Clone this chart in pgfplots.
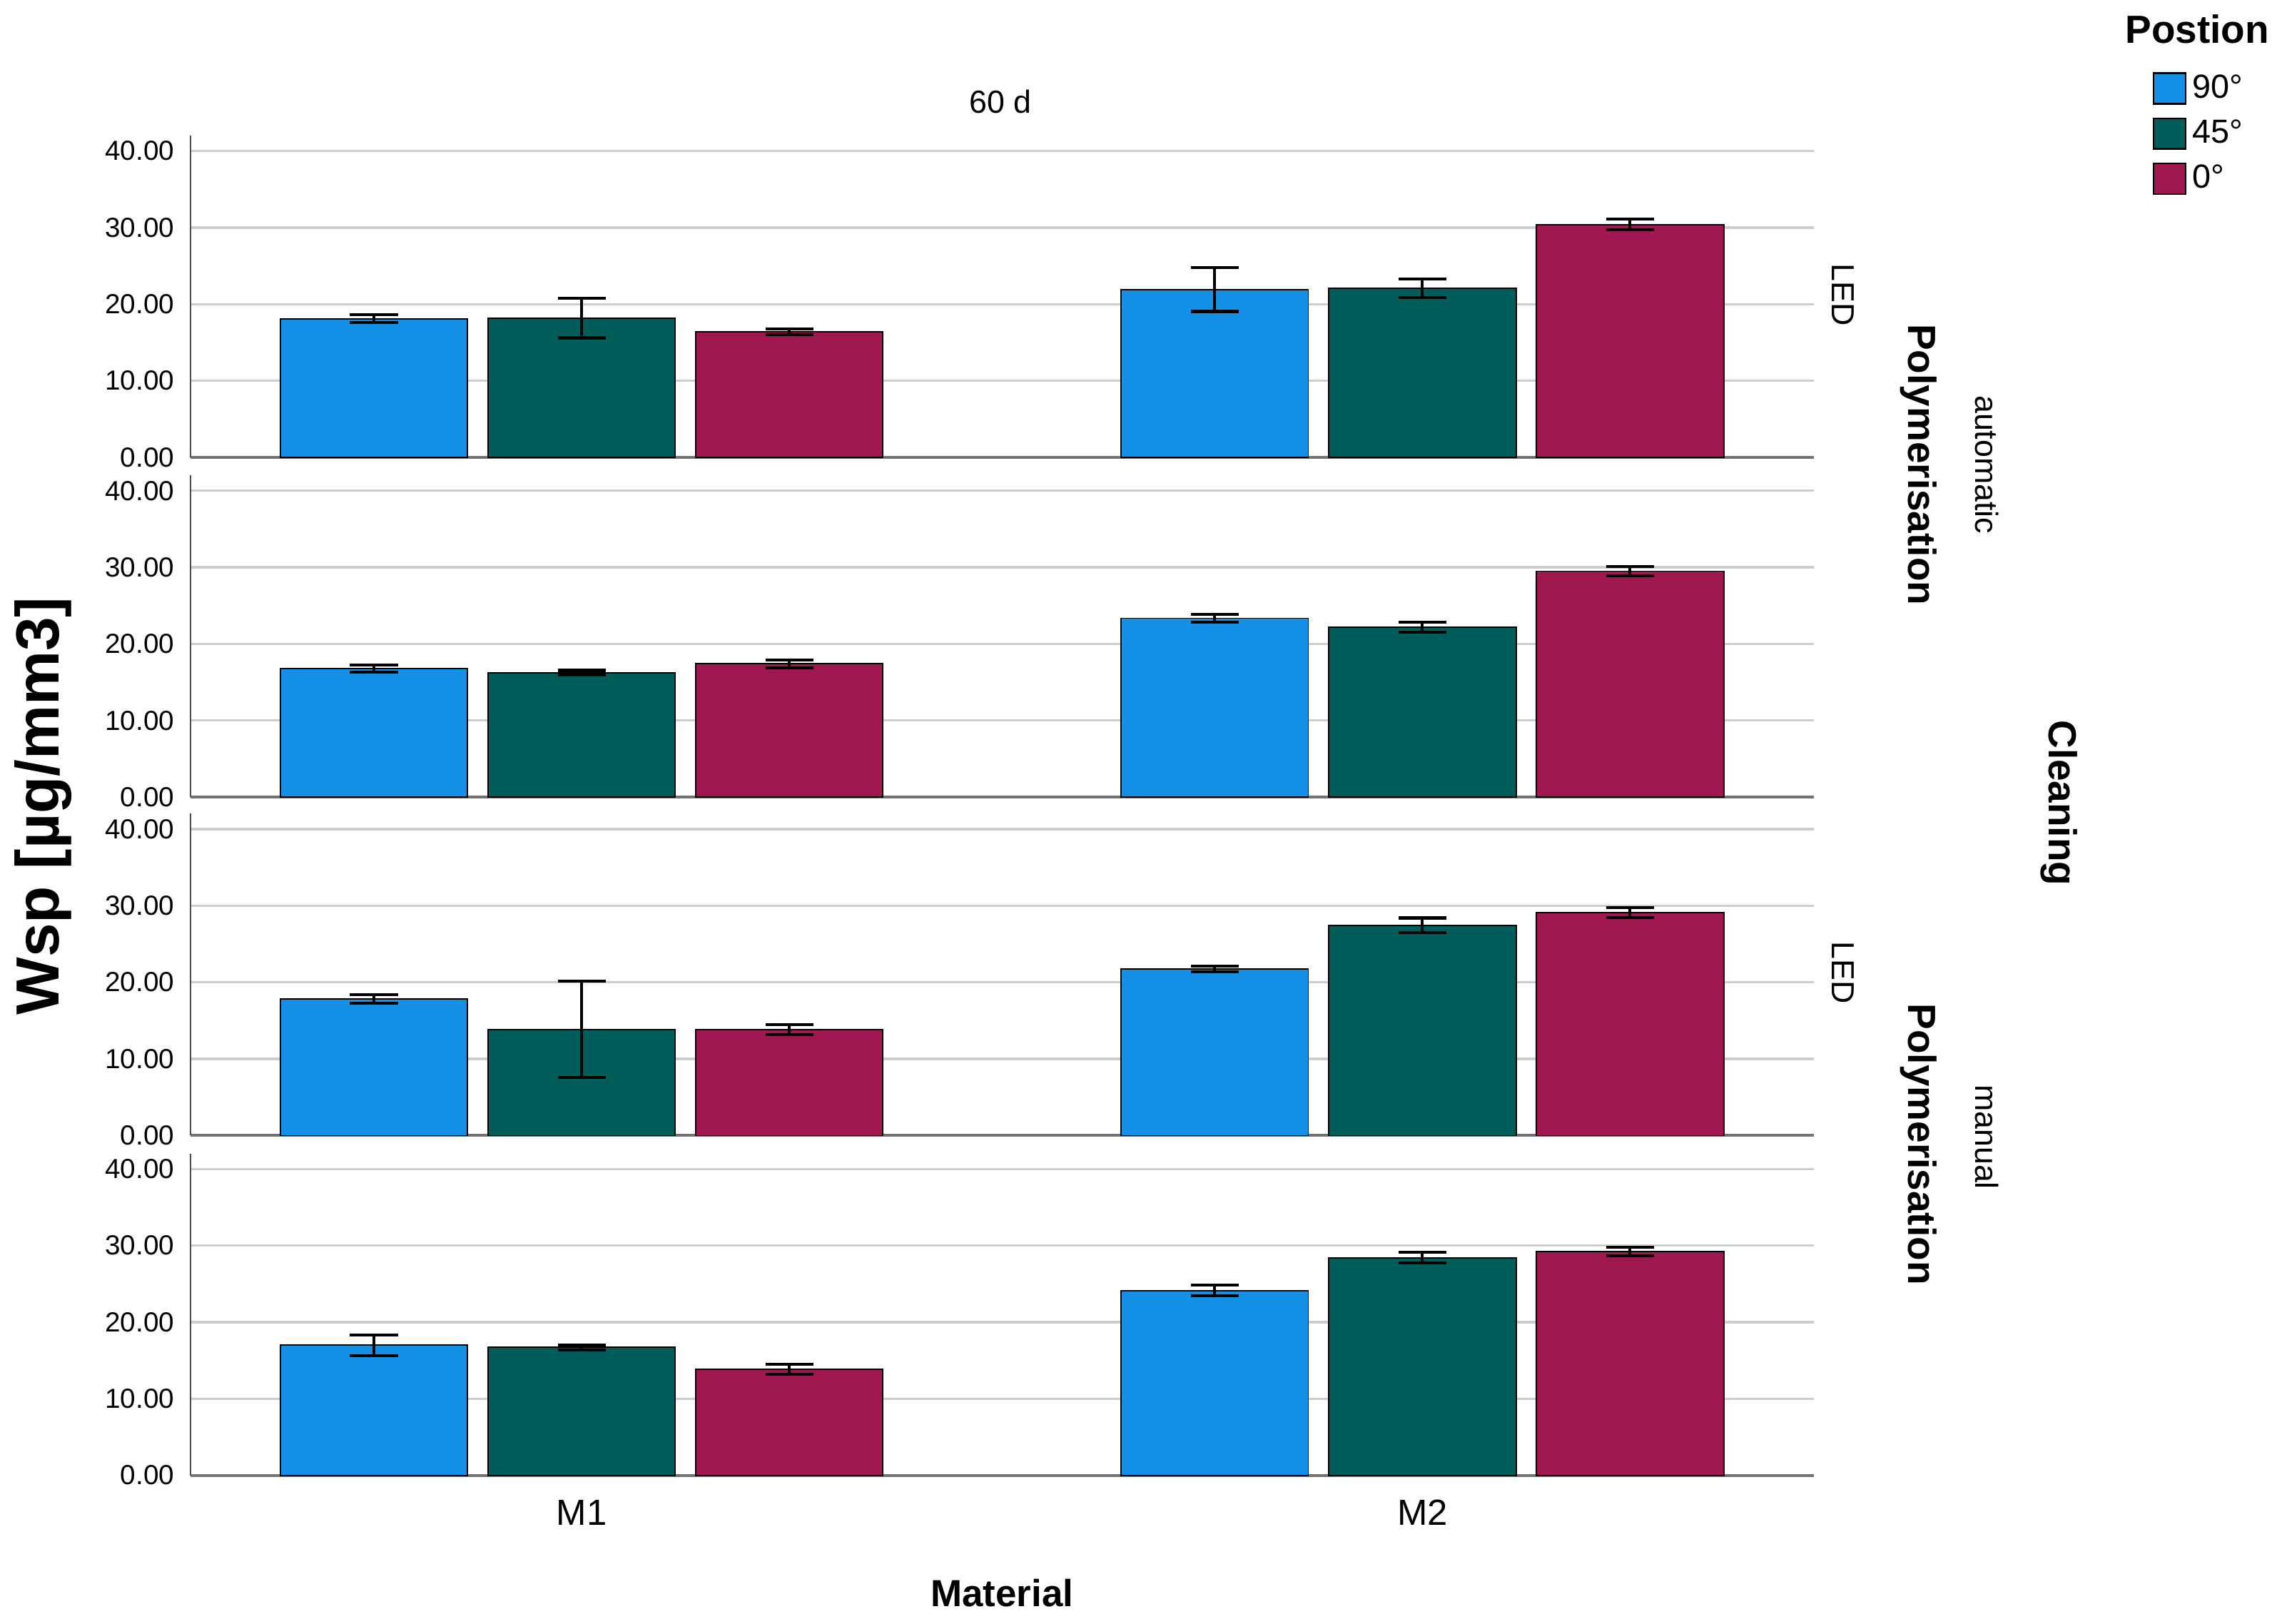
\documentclass[border=0pt]{standalone}
\usepackage{fontspec}
\setmainfont{Liberation Sans}
\usepackage{pgfplots}
\pgfplotsset{compat=1.18}

\definecolor{cblue}{RGB}{20,144,230}
\definecolor{cgreen}{RGB}{0,94,90}
\definecolor{cred}{RGB}{160,24,80}

\pgfplotsset{
  panel/.style={
    scale only axis, width=559pt, height=110.8pt,
    xmin=-0.4655, xmax=1.4655, ymin=0, ymax=42,
    axis x line=bottom, axis y line=left,
    axis line style={-},
    x axis line style={black!55, line width=1pt},
    y axis line style={black!70, line width=0.45pt},
    ytick={0,10,20,30,40},
    ymajorgrids, grid style={black!20, line width=0.8pt},
    major tick length=0pt,
    /pgf/number format/assume math mode=true,
    yticklabel style={/pgf/number format/.cd, fixed, fixed zerofill, precision=2, /tikz/.cd, font=\fontsize{9.5}{10}\selectfont, xshift=-2pt},
    xticklabel style={font=\fontsize{12.5}{13}\selectfont, yshift=-5pt},
    clip=false,
  },
  bstyle/.style={ybar, bar width=0.2228, bar shift=0, draw=black, line width=0.45pt,
    error bars/y dir=both, error bars/y explicit,
    error bars/error bar style={black, line width=1pt},
    error bars/error mark options={black, line width=1pt, mark size=8.25pt, rotate=90}},
}

\begin{document}
\begin{tikzpicture}
\useasboundingbox (0,0) rectangle (784pt,559pt);

% Panel 1: automatic / LED   (M1 group at x=0, M2 group at x=1; 90deg -0.247, 45deg 0, 0deg +0.247)
\begin{axis}[panel, at={(65.5pt,401.5pt)}, anchor=south west, xtick=\empty,
  legend style={at={(1.2084,1.2094)}, anchor=north west, draw=none, fill=none,
    font=\fontsize{11.5}{12}\selectfont, inner sep=0pt, row sep=2pt},
  legend cell align=left,
  legend image code/.code={\draw[#1, draw=black, line width=0.6pt] (0pt,-5.25pt) rectangle (11pt,5.25pt);}]
\addplot[bstyle, fill=cblue] coordinates {(-0.247,18.1) +- (0,0.5) (0.753,21.9) +- (0,2.85)};
\addplot[bstyle, fill=cgreen] coordinates {(0,18.2) +- (0,2.6) (1,22.1) +- (0,1.2)};
\addplot[bstyle, fill=cred] coordinates {(0.247,16.4) +- (0,0.4) (1.247,30.4) +- (0,0.7)};
\legend{90°,45°,0°}
\end{axis}

% Panel 2
\begin{axis}[panel, at={(65.5pt,284.5pt)}, anchor=south west, xtick=\empty]
\addplot[bstyle, fill=cblue] coordinates {(-0.247,16.8) +- (0,0.45) (0.753,23.35) +- (0,0.5)};
\addplot[bstyle, fill=cgreen] coordinates {(0,16.25) +- (0,0.3) (1,22.15) +- (0,0.65)};
\addplot[bstyle, fill=cred] coordinates {(0.247,17.4) +- (0,0.5) (1.247,29.5) +- (0,0.6)};
\end{axis}

% Panel 3
\begin{axis}[panel, at={(65.5pt,168pt)}, anchor=south west, xtick=\empty]
\addplot[bstyle, fill=cblue] coordinates {(-0.247,17.8) +- (0,0.55) (0.753,21.75) +- (0,0.4)};
\addplot[bstyle, fill=cgreen] coordinates {(0,13.85) +- (0,6.3) (1,27.45) +- (0,0.95)};
\addplot[bstyle, fill=cred] coordinates {(0.247,13.85) +- (0,0.65) (1.247,29.1) +- (0,0.65)};
\end{axis}

% Panel 4
\begin{axis}[panel, at={(65.5pt,51pt)}, anchor=south west, xtick={0,1}, xticklabels={M1,M2}]
\addplot[bstyle, fill=cblue] coordinates {(-0.247,17.0) +- (0,1.35) (0.753,24.1) +- (0,0.7)};
\addplot[bstyle, fill=cgreen] coordinates {(0,16.7) +- (0,0.35) (1,28.4) +- (0,0.7)};
\addplot[bstyle, fill=cred] coordinates {(0.247,13.85) +- (0,0.65) (1.247,29.2) +- (0,0.55)};
\end{axis}

% Titles and strip labels
\node[font=\fontsize{11}{12}\selectfont] at (344.5pt,524pt) {60 d};
\node[font=\bfseries\fontsize{21}{24}\selectfont, rotate=90] at (15pt,281.5pt) {Wsp [µg/mm3]};
\node[font=\bfseries\fontsize{13}{14}\selectfont] at (345pt,10.5pt) {Material};
\node[font=\fontsize{11}{12}\selectfont, rotate=-90] at (634.5pt,457.5pt) {LED};
\node[font=\fontsize{11}{12}\selectfont, rotate=-90] at (634.5pt,224pt) {LED};
\node[font=\bfseries\fontsize{13.5}{14}\selectfont, rotate=-90] at (660.5pt,399pt) {Polymerisation};
\node[font=\bfseries\fontsize{13.5}{14}\selectfont, rotate=-90] at (660.5pt,165pt) {Polymerisation};
\node[font=\fontsize{11}{12}\selectfont, rotate=-90] at (684pt,399pt) {automatic};
\node[font=\fontsize{11}{12}\selectfont, rotate=-90] at (684pt,167.5pt) {manual};
\node[font=\bfseries\fontsize{13.5}{14}\selectfont, rotate=-90] at (709pt,282.5pt) {Cleaning};
\node[font=\bfseries\fontsize{13.5}{14}\selectfont] at (756.5pt,549pt) {Postion};
\end{tikzpicture}
\end{document}
